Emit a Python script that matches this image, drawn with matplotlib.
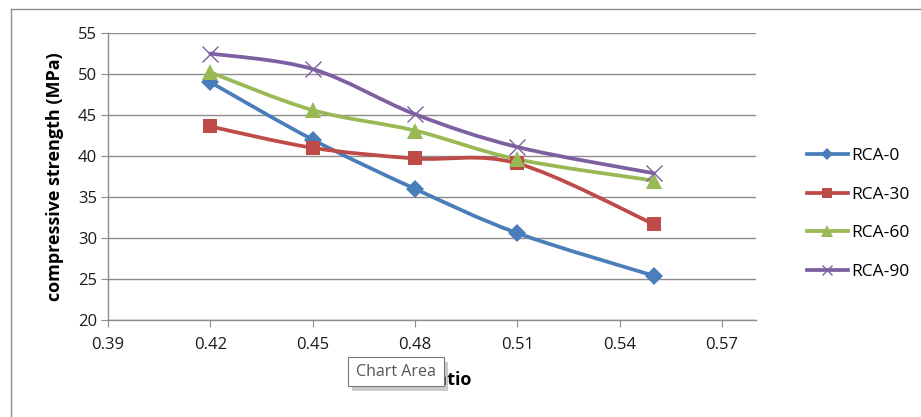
import matplotlib
matplotlib.use("Agg")
import matplotlib.pyplot as plt
import numpy as np
from matplotlib.path import Path
from matplotlib.patches import PathPatch, Rectangle
from matplotlib.lines import Line2D

plt.rcParams['font.family'] = ['Open Sans', 'DejaVu Sans']

wc_ratio = [0.42, 0.45, 0.48, 0.51, 0.55]
rca_0 = [49.0, 42.0, 36.0, 30.6, 25.4]
rca_30 = [43.6, 41.0, 39.7, 39.1, 31.7]
rca_60 = [50.2, 45.6, 43.1, 39.6, 37.0]
rca_90 = [52.5, 50.6, 45.1, 41.1, 37.9]
series_names = ["RCA-0", "RCA-30", "RCA-60", "RCA-90"]
x_ticks = [0.39, 0.42, 0.45, 0.48, 0.51, 0.54, 0.57]
y_ticks = [20, 25, 30, 35, 40, 45, 50, 55]

colors = ["#4A7EBB", "#BE4B48", "#98B954", "#7D60A0"]
markers = ["D", "s", "^", "x"]
msizes = [9.5, 10.5, 11, 11]
leg_msizes = [6, 7.5, 8, 7]

fig = plt.figure(figsize=(9.21, 4.17), dpi=100)
W, H = 921, 417
ax = fig.add_axes([108 / W, 1 - 320 / H, (756 - 108) / W, (320 - 33) / H])


def smooth_path(xs, ys):
    pts = np.column_stack([xs, ys])
    n = len(pts)
    verts = [pts[0]]
    codes = [Path.MOVETO]
    for i in range(n - 1):
        p_prev = pts[i - 1] if i > 0 else pts[i]
        p0 = pts[i]
        p1 = pts[i + 1]
        p_next = pts[i + 2] if i + 2 < n else pts[i + 1]
        c1 = p0 + (p1 - p_prev) / 6.0
        c2 = p1 - (p_next - p0) / 6.0
        verts += [c1, c2, p1]
        codes += [Path.CURVE4] * 3
    return Path(verts, codes)


all_series = [rca_0, rca_30, rca_60, rca_90]
for vals, name, c, m, ms in zip(all_series, series_names, colors, markers, msizes):
    patch = PathPatch(smooth_path(wc_ratio, vals), facecolor="none", edgecolor=c,
                      lw=2.7, zorder=3, capstyle="round", joinstyle="round")
    ax.add_patch(patch)
    if m == "x":
        ax.plot(wc_ratio, vals, linestyle="none", marker=m, ms=ms, mew=1.0,
                color=c, zorder=4)
    else:
        ax.plot(wc_ratio, vals, linestyle="none", marker=m, ms=ms, mew=0,
                color=c, zorder=4)

ax.set_xlim(0.39, 0.58)
ax.set_ylim(20, 55)
ax.set_xticks(x_ticks)
ax.set_xticklabels([f"{v:.2f}" for v in x_ticks])
ax.set_yticks(y_ticks)
ax.grid(axis="y", color="#8C8C8C", lw=1.0)
ax.set_axisbelow(True)
for s in ["top", "right"]:
    ax.spines[s].set_visible(False)
for s in ["left", "bottom"]:
    ax.spines[s].set_color("#8C8C8C")
    ax.spines[s].set_linewidth(1.0)
ax.tick_params(axis="both", direction="out", length=5, color="#8C8C8C",
               labelsize=12, labelcolor="#1a1a1a")
ax.tick_params(axis="x", pad=7)
ax.tick_params(axis="y", pad=3)

ax.set_ylabel("compressive strength (MPa)", fontsize=13, fontweight="bold",
              labelpad=10)
ax.set_xlabel("w/c ratio", fontsize=13, fontweight="bold", labelpad=13)

handles = [Line2D([0], [0], color=c, lw=2.7, marker=m, ms=ms,
                  mew=(1.0 if m == "x" else 0))
           for c, m, ms in zip(colors, markers, leg_msizes)]
fig.legend(handles, series_names, loc="center left",
           bbox_to_anchor=(791 / W, 1 - 214 / H), frameon=False, fontsize=12.5,
           handlelength=2.4, handletextpad=0.15, labelspacing=1.3)

# chart area border (extends beyond the image on right and bottom)
fig.add_artist(Line2D([11 / W, 1.0], [1 - 9 / H, 1 - 9 / H], color="#8C8C8C",
                      lw=1.0, transform=fig.transFigure))
fig.add_artist(Line2D([11 / W, 11 / W], [0, 1 - 9 / H], color="#8C8C8C",
                      lw=1.0, transform=fig.transFigure))

# "Chart Area" tooltip
fig.add_artist(Rectangle((352 / W, 1 - 391 / H), 96 / W, 29 / H,
                         transform=fig.transFigure, facecolor="#8a8a8a",
                         edgecolor="none", alpha=0.45, zorder=9))
fig.add_artist(Rectangle((348 / W, 1 - 386 / H), 96 / W, 29 / H,
                         transform=fig.transFigure, facecolor="white",
                         edgecolor="#777777", lw=0.8, zorder=10))
fig.text(396 / W, 1 - 372 / H, "Chart Area", ha="center", va="center",
         fontsize=11.5, color="#555555", zorder=11)

fig.savefig("out.png", dpi=100)
